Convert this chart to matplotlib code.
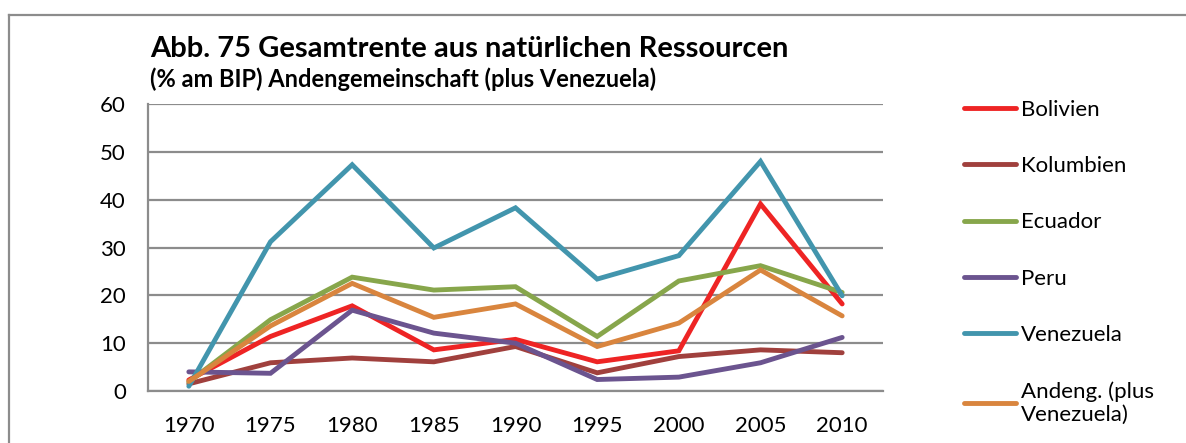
import matplotlib.pyplot as plt
from matplotlib.lines import Line2D

plt.rcParams["font.family"] = ["Lato", "DejaVu Sans"]

years = ["1970", "1975", "1980", "1985", "1990", "1995", "2000", "2005", "2010"]

bolivien = [2.3, 11.4, 17.8, 8.6, 10.8, 6.1, 8.4, 39.1, 18.2]
kolumbien = [1.5, 5.9, 6.9, 6.1, 9.3, 3.8, 7.2, 8.6, 8.0]
ecuador = [1.9, 14.9, 23.8, 21.1, 21.8, 11.4, 23.0, 26.2, 20.6]
peru = [4.0, 3.7, 16.9, 12.1, 10.0, 2.4, 2.9, 5.9, 11.2]
venezuela = [1.0, 31.2, 47.3, 29.9, 38.3, 23.4, 28.3, 48.0, 19.9]
andeng = [2.0, 13.6, 22.5, 15.4, 18.2, 9.3, 14.2, 25.3, 15.7]

series = [
    ("Bolivien", bolivien, "#ee2424"),
    ("Kolumbien", kolumbien, "#a0403d"),
    ("Ecuador", ecuador, "#87a64b"),
    ("Peru", peru, "#6b548f"),
    ("Venezuela", venezuela, "#4295ad"),
    ("Andeng. (plus\nVenezuela)", andeng, "#d9853e"),
]

W, H = 1186, 443
fig = plt.figure(figsize=(W / 100, H / 100), dpi=100)
ax = fig.add_axes([148 / W, 1 - 391 / H, (883 - 148) / W, (391 - 104) / H])

x = range(len(years))
for name, vals, col in series:
    ax.plot(x, vals, color=col, lw=3.5, solid_capstyle="round",
            solid_joinstyle="miter", label=name, zorder=3)

ax.set_xlim(-0.5, len(years) - 0.5)
ax.set_ylim(0, 60)
ax.set_yticks(range(0, 61, 10))
ax.set_xticks(list(x))
ax.set_xticklabels(years)
ax.tick_params(length=0, labelsize=16, colors="black")
ax.tick_params(axis="y", pad=16)
ax.tick_params(axis="x", pad=18)
ax.yaxis.grid(True, color="#8c8c8c", lw=1.6)
ax.set_axisbelow(True)
for s in ["top", "right"]:
    ax.spines[s].set_visible(False)
for s in ["left", "bottom"]:
    ax.spines[s].set_color("#8c8c8c")
    ax.spines[s].set_linewidth(1.6)

# titles
fig.text(150 / W, 1 - 57 / H, "Abb. 75 Gesamtrente aus natürlichen Ressourcen",
         fontsize=21, fontweight="bold", va="baseline")
fig.text(150 / W, 1 - 87 / H, "(% am BIP) Andengemeinschaft (plus Venezuela)",
         fontsize=17, fontweight="bold", va="baseline")

# legend
handles = [Line2D([], [], color=c, lw=3.5, solid_capstyle="round") for _, _, c in series]
labels = [n for n, _, _ in series]
fig.legend(handles, labels, loc="upper left", bbox_to_anchor=(944 / W, 1 - 80 / H),
           frameon=False, fontsize=16, handlelength=2.35, handletextpad=0.22,
           labelspacing=1.63)

# outer frame
fig.add_artist(Line2D([9 / W, 1], [1 - 15 / H, 1 - 15 / H], color="#8c8c8c", lw=1.6))
fig.add_artist(Line2D([9 / W, 9 / W], [0, 1 - 15 / H], color="#8c8c8c", lw=1.6))

fig.savefig("out.png", dpi=100)
